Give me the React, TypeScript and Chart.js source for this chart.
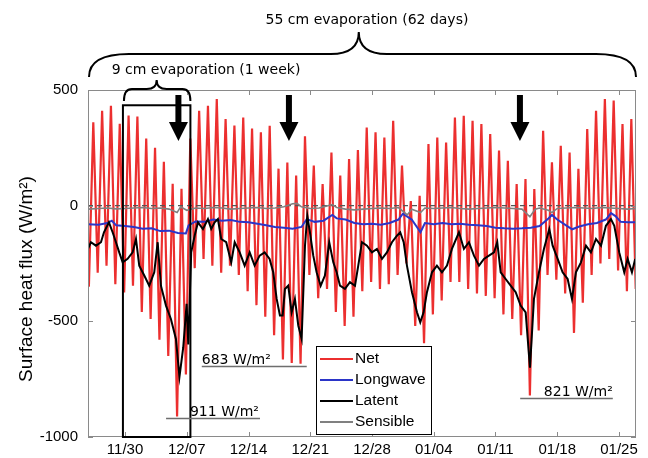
import React, { useEffect, useRef } from "react";
import { Chart, registerables } from "chart.js";

Chart.register(...registerables);

// ---------------- data (days after 11/30) ----------------
const xTickDays = [0, 7, 14, 21, 28, 35, 42, 49, 56];
const xTickLabels = ["11/30", "12/07", "12/14", "12/21", "12/28", "01/04", "01/11", "01/18", "01/25"];
const yTickValues = [-1000, -500, 0, 500];
const X_MIN = -4.2;
const X_MAX = 57.93;

// Net flux: one daytime peak per day (first day = -4), and nightly minima (first = night before day -4)
const netFirstDay = -4;
const netPeaks = [
  360, 410, 432, 354, 390, 385, 290, 250, 190, 95, 73,
  290, 410, 432, 461, 375, 346, 381, 333, 317, 345,
  160, 187, 130, 300, 173, 94, 230, 130, 202, 240,
  338, 317, 295, 367, 173, 20, 43, 266, 295, 273,
  381, 389, 367, 353, 310, 238, 194, 94, 115, 72,
  324, 187, 259, 230, 159, 331, 410, 461, 454, 353, 374,
];
const netTroughs = [
  -350, -290, -260, -340, -375, -346, -460, -490, -580, -650, -911, -730,
  -270, -230, -260, -290, -260, -300, -370, -430, -480, -560,
  -665, -680, -683, -300, -400, -360, -460, -520, -480, -370,
  -330, -360, -340, -300, -250, -520, -595, -470, -410, -330,
  -330, -360, -380, -390, -400, -470, -490, -560, -821, -540,
  -300, -320, -380, -550, -420, -300, -250, -230, -280, -370, -360,
];

const latentDays = [
  -4.2, -3.87, -3.3, -2.73, -2.39, -1.83, -1.41, -1.03, -0.66, -0.27, 0.29, 0.86, 1.24, 1.61, 2.18, 2.74,
  3.31, 3.7, 4.07, 4.64, 5.2, 5.77, 6.17, 6.6, 6.98, 7.17, 7.5, 7.89, 8.27, 8.83, 9.4, 9.77, 10.16, 10.53,
  10.9, 11.47, 12.04, 12.43, 13, 13.56, 14.13, 14.69, 15.26, 15.83, 16.39, 16.8, 17.19, 17.56, 17.87, 18.13,
  18.5, 18.89, 19.26, 19.64, 20.02, 20.4, 20.66, 20.96, 21.34, 21.72, 22.18, 22.66, 23.15, 23.61, 23.99,
  24.37, 24.93, 25.5, 26.07, 26.44, 26.86, 27.43, 27.99, 28.56, 29.13, 29.69, 30.26, 30.83, 31.2, 31.59,
  31.96, 32.53, 33.1, 33.47, 33.85, 34.23, 34.8, 35.36, 35.93, 36.5, 37.06, 37.86, 38.42, 38.99, 39.56,
  40.13, 40.69, 41.26, 41.83, 42.2, 42.59, 43.15, 43.72, 44.29, 44.85, 45.42, 45.91, 46.36, 46.93, 47.49,
  48.1, 48.48, 49.05, 49.61, 50.18, 50.67, 51.12, 51.69, 52.26, 52.82, 53.39, 53.96, 54.52, 55.09, 55.47,
  56.03, 56.6, 56.98, 57.47, 57.84,
];
const latentValues = [
  -187, -158, -173, -158, -115, -72, -115, -158, -202, -245, -230, -202, -144, -259, -302, -346,
  -288, -158, -346, -432, -490, -576, -740, -612, -424, -600, -202, -130, -72, -101, -58, -101, -72, -58,
  -144, -158, -245, -158, -202, -259, -202, -259, -216, -202, -230, -288, -403, -475, -475, -360,
  -346, -461, -403, -518, -576, -173, -43, -115, -216, -288, -346, -302, -158, -245, -288,
  -346, -360, -331, -346, -259, -158, -173, -202, -187, -230, -202, -158, -130, -115, -158,
  -259, -374, -461, -504, -461, -374, -288, -259, -288, -259, -187, -115, -187, -158, -216,
  -259, -230, -216, -202, -158, -288, -317, -346, -374, -432, -461, -700, -403, -288, -187,
  -101, -173, -230, -288, -317, -403, -288, -245, -173, -202, -144, -173, -87, -58, -87,
  -202, -288, -230, -288, -230,
];

const longwaveDays = [
  -4.2, -3, -2, -1.5, -1, 0, 1, 2, 3, 4, 5, 6, 6.9, 7.2, 8, 9, 10, 11, 12, 13, 14, 15, 16, 17, 18, 19, 20,
  20.6, 21.5, 22.5, 23.5, 24, 25, 26, 27, 28, 29, 30, 31, 31.5, 32.5, 33.5, 34, 35, 36, 37, 38, 39, 40, 41,
  42, 43, 44, 45, 46, 47, 48, 48.4, 49, 50, 50.7, 51.5, 52.5, 53.5, 54.5, 55.1, 55.6, 56.2, 57, 57.9,
];
const longwaveValues = [
  -80, -82, -75, -65, -85, -88, -92, -100, -98, -110, -108, -118, -120, -85, -68, -70, -60, -65, -62, -70,
  -72, -78, -85, -92, -95, -100, -92, -58, -70, -65, -40, -55, -60, -75, -80, -78, -82, -75, -60, -35, -60,
  -115, -75, -80, -75, -80, -78, -82, -85, -88, -95, -98, -100, -98, -95, -88, -55, -40, -60, -85, -102,
  -90, -80, -75, -60, -32, -45, -70, -72, -72,
];

const sensibleDays = [
  -4.2, -3, -2, -1, 0, 1, 2, 3, 4, 5, 5.9, 6.3, 7, 8, 9, 10, 11, 12, 13, 14, 15, 16, 17, 18, 19, 19.5, 20,
  21, 22, 23, 23.5, 24, 25, 26, 27, 28, 29, 30, 31, 32, 32.5, 33.5, 34, 35, 36, 37, 38, 39, 40, 41, 42, 43,
  44, 45, 45.9, 46.5, 47, 48, 48.4, 49, 50, 51, 52, 53, 54, 55, 56, 57, 57.9,
];
const sensibleValues = [
  -15, -12, -10, -14, -12, -10, -8, -12, -10, -15, -30, -5, -20, -10, -12, -8, -10, -15, -12, -10, -8, -12,
  -10, -5, 8, 10, -5, -12, -10, 0, 5, -8, -15, -18, -15, -12, -10, -12, -8, -40, -15, -30, -10, -12, -10,
  -8, -12, -15, -12, -10, -8, -10, -12, -15, -48, -15, -10, -20, -30, -12, -10, -8, -10, -12, -8, -10,
  -12, -15, -12,
];

// annotation anchors (in data units)
const arrowDays = [6.05, 18.58, 44.77];
const weekBox = { from: -0.24, to: 7.41, top: 434 };
const peakLabels = [
  { text: "911 W/m²", value: -911, lineFrom: 4.65, lineTo: 15.3, textFrom: 7.36, align: "left" },
  { text: "683 W/m²", value: -683, lineFrom: 8.7, lineTo: 20.6, textFrom: 8.7, align: "left" },
  { text: "821 W/m²", value: -821, lineFrom: 44.8, lineTo: 55.3, textFrom: 55.3, align: "right" },
];
const legendItems = [
  { label: "Net", color: "#ec2f2f" },
  { label: "Longwave", color: "#2b35c8" },
  { label: "Latent", color: "#000000" },
  { label: "Sensible", color: "#808080" },
];

function pairs(xs: number[], ys: number[]) {
  return xs.map((x, i) => ({ x, y: ys[i] }));
}

function buildNet() {
  const pts: { x: number; y: number }[] = [];
  netPeaks.forEach((p, i) => {
    const d = netFirstDay + i;
    pts.push({ x: d - 0.1, y: netTroughs[i] });
    pts.push({ x: d + 0.4, y: p });
  });
  pts.push({ x: netFirstDay + netPeaks.length - 0.1, y: netTroughs[netPeaks.length] });
  return pts;
}

const SANS = "'Liberation Sans', Arial, sans-serif";
const DEJAVU = "'DejaVu Sans', Verdana, sans-serif";

function brace(ctx: CanvasRenderingContext2D, x0: number, x1: number, xt: number, yEnd: number, yMid: number, yTip: number, rEnd: number, rTip: number) {
  ctx.beginPath();
  ctx.moveTo(x0, yEnd);
  ctx.quadraticCurveTo(x0, yMid, x0 + rEnd, yMid);
  ctx.lineTo(xt - rTip, yMid);
  ctx.quadraticCurveTo(xt, yMid, xt, yTip);
  ctx.moveTo(x1, yEnd);
  ctx.quadraticCurveTo(x1, yMid, x1 - rEnd, yMid);
  ctx.lineTo(xt + rTip, yMid);
  ctx.quadraticCurveTo(xt, yMid, xt, yTip);
  ctx.stroke();
}

const annotPlugin = {
  id: "annot",
  afterDraw(chart: any) {
    const { ctx, chartArea: a, scales } = chart;
    const x = scales.x;
    const y = scales.y;
    ctx.save();

    // frame
    ctx.strokeStyle = "#8a8a8a";
    ctx.lineWidth = 1;
    ctx.strokeRect(a.left + 0.5, a.top + 0.5, a.right - a.left - 1, a.bottom - a.top - 1);
    ctx.beginPath();
    xTickDays.forEach((d) => {
      const px = Math.round(x.getPixelForValue(d)) + 0.5;
      ctx.moveTo(px, a.bottom);
      ctx.lineTo(px, a.bottom - 5);
      ctx.moveTo(px, a.top);
      ctx.lineTo(px, a.top + 5);
    });
    yTickValues.forEach((v) => {
      const py = Math.round(y.getPixelForValue(v)) + 0.5;
      ctx.moveTo(a.left, py);
      ctx.lineTo(a.left + 5, py);
      ctx.moveTo(a.right, py);
      ctx.lineTo(a.right - 5, py);
    });
    ctx.stroke();

    // week box
    ctx.strokeStyle = "#000";
    ctx.lineWidth = 2;
    const bx0 = x.getPixelForValue(weekBox.from);
    const bx1 = x.getPixelForValue(weekBox.to);
    const by0 = y.getPixelForValue(weekBox.top);
    ctx.strokeRect(bx0, by0, bx1 - bx0, a.bottom - by0);

    // arrows
    ctx.fillStyle = "#000";
    arrowDays.forEach((d) => {
      const cx = x.getPixelForValue(d);
      ctx.fillRect(cx - 3, a.top + 5, 6, 30);
      ctx.beginPath();
      ctx.moveTo(cx - 9.5, a.top + 32);
      ctx.lineTo(cx + 9.5, a.top + 32);
      ctx.lineTo(cx, a.top + 51);
      ctx.closePath();
      ctx.fill();
    });

    // peak labels
    ctx.font = `14px ${DEJAVU}`;
    ctx.textBaseline = "alphabetic";
    peakLabels.forEach((p) => {
      const py = Math.round(y.getPixelForValue(p.value)) + 2.5;
      const lx0 = x.getPixelForValue(p.lineFrom);
      const lx1 = x.getPixelForValue(p.lineTo);
      ctx.strokeStyle = "#6e6e6e";
      ctx.lineWidth = 1.5;
      ctx.beginPath();
      ctx.moveTo(lx0, py);
      ctx.lineTo(lx1, py);
      ctx.stroke();
      ctx.fillStyle = "#000";
      ctx.textAlign = p.align === "right" ? "right" : "left";
      ctx.fillText(p.text, x.getPixelForValue(p.textFrom), py - 3);
    });

    // braces
    ctx.strokeStyle = "#000";
    ctx.lineWidth = 2;
    brace(ctx, a.left + 1, a.right, x.getPixelForValue(26.5), 77, 54, 32, 40, 28);
    brace(ctx, bx0 + 1, bx1, (bx0 + bx1) / 2, 101, 89, 80, 8, 10);
    ctx.fillStyle = "#000";
    ctx.textAlign = "center";
    ctx.textBaseline = "middle";
    ctx.font = `14px ${DEJAVU}`;
    ctx.fillText("55 cm evaporation (62 days)", 367, 20);
    ctx.fillText("9 cm evaporation (1 week)", 206, 70);

    // legend
    const lx = 316, ly = 346, lw = 115, lh = 88;
    ctx.fillStyle = "#fff";
    ctx.fillRect(lx, ly, lw, lh);
    ctx.strokeStyle = "#000";
    ctx.lineWidth = 1;
    ctx.strokeRect(lx + 0.5, ly + 0.5, lw, lh);
    ctx.font = `15.5px ${SANS}`;
    ctx.textAlign = "left";
    ctx.textBaseline = "middle";
    legendItems.forEach((it, i) => {
      const yy = ly + 13 + i * 21;
      ctx.strokeStyle = it.color;
      ctx.lineWidth = 2;
      ctx.beginPath();
      ctx.moveTo(lx + 4, yy);
      ctx.lineTo(lx + 37, yy);
      ctx.stroke();
      ctx.fillStyle = "#000";
      ctx.fillText(it.label, lx + 39, yy);
    });

    // y title
    ctx.save();
    ctx.translate(27, 279);
    ctx.rotate(-Math.PI / 2);
    ctx.textAlign = "center";
    ctx.textBaseline = "middle";
    ctx.font = `19px ${SANS}`;
    ctx.fillStyle = "#000";
    ctx.fillText("Surface heat flux (W/m²)", 0, 0);
    ctx.restore();

    ctx.restore();
  },
};

export default function App() {
  const ref = useRef<HTMLCanvasElement | null>(null);
  useEffect(() => {
    if (!ref.current) return;
    const chart = new Chart(ref.current, {
      type: "line",
      data: {
        datasets: [
          { label: "Sensible", data: pairs(sensibleDays, sensibleValues), borderColor: "#808080", borderWidth: 1.6, order: 1 },
          { label: "zero", data: [{ x: X_MIN, y: 0 }, { x: X_MAX, y: 0 }], borderColor: "#555555", borderDash: [5, 4], borderWidth: 1.2, order: 2 },
          { label: "Latent", data: pairs(latentDays, latentValues), borderColor: "#000000", borderWidth: 2, order: 3 },
          { label: "Longwave", data: pairs(longwaveDays, longwaveValues), borderColor: "#2b35c8", borderWidth: 2, order: 4 },
          { label: "Net", data: buildNet(), borderColor: "#ec2f2f", borderWidth: 2.2, order: 5 },
        ],
      } as any,
      options: {
        animation: false,
        responsive: false,
        devicePixelRatio: 1,
        elements: { point: { radius: 0 }, line: { tension: 0 } },
        layout: { padding: { top: 90, right: 12, left: 0, bottom: 0 } },
        plugins: { legend: { display: false }, tooltip: { enabled: false } },
        scales: {
          x: {
            type: "linear",
            min: X_MIN,
            max: X_MAX,
            grid: { display: false, drawTicks: false },
            border: { display: false },
            afterBuildTicks: (s: any) => {
              s.ticks = xTickDays.map((v) => ({ value: v }));
            },
            afterFit: (s: any) => {
              s.height = 21;
            },
            ticks: {
              autoSkip: false,
              maxRotation: 0,
              padding: 4,
              color: "#000",
              font: { family: SANS, size: 15 },
              callback: (v: any) => {
                const i = xTickDays.indexOf(Number(v));
                return i >= 0 ? xTickLabels[i] : "";
              },
            },
          },
          y: {
            type: "linear",
            min: -1000,
            max: 500,
            grid: { display: false, drawTicks: false },
            border: { display: false },
            afterBuildTicks: (s: any) => {
              s.ticks = yTickValues.map((v) => ({ value: v }));
            },
            afterFit: (s: any) => {
              s.width = 88;
            },
            ticks: {
              padding: 10,
              color: "#000",
              font: { family: SANS, size: 15 },
              callback: (v: any) => String(v),
            },
          },
        },
      } as any,
      plugins: [annotPlugin],
    });
    return () => chart.destroy();
  }, []);
  return (
    <div style={{ position: "absolute", left: 0, top: 0, width: 648, height: 458, background: "#fff" }}>
      <canvas ref={ref} width={648} height={458} />
    </div>
  );
}
